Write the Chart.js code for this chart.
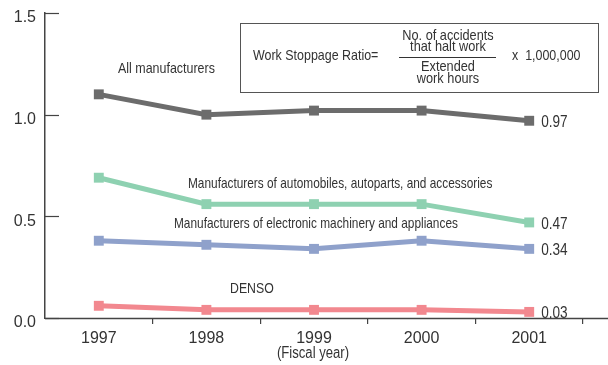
<!DOCTYPE html>
<html>
<head>
<meta charset="utf-8">
<script src="https://cdn.jsdelivr.net/npm/chart.js@4/dist/chart.umd.min.js"></script>
<style>
  html, body { margin: 0; padding: 0; background: #fff; }
  #wrap { width: 608px; height: 365px; position: relative; }
</style>
</head>
<body>
<div id="wrap"><canvas id="c" width="608" height="365"></canvas></div>
<script>
// Work stoppage ratio by fiscal year
const years = ['1997', '1998', '1999', '2000', '2001'];
const allManufacturers = [1.10, 1.00, 1.02, 1.02, 0.97];
const autoManufacturers = [0.69, 0.56, 0.56, 0.56, 0.47];
const electronicManufacturers = [0.38, 0.36, 0.34, 0.38, 0.34];
const denso = [0.06, 0.04, 0.04, 0.04, 0.03];
const yTicks = [0, 0.5, 1.0, 1.5];

const seriesNames = [
  'All manufacturers',
  'Manufacturers of automobiles, autoparts, and accessories',
  'Manufacturers of electronic machinery and appliances',
  'DENSO'
];
const seriesColors = ['#6c6c6c', '#8ed1b1', '#8fa1cb', '#f2888f'];
const seriesData = [allManufacturers, autoManufacturers, electronicManufacturers, denso];

const REGULAR = '"Liberation Sans", Arial, sans-serif';

// draw text squeezed horizontally (condensed look), anchored at (x, y)
function narrowText(ctx, text, x, y, size, squeeze, align) {
  ctx.save();
  ctx.font = size + 'px ' + REGULAR;
  ctx.textAlign = align || 'left';
  ctx.translate(x, y);
  ctx.scale(squeeze, 1);
  ctx.fillText(text, 0, 0);
  ctx.restore();
}

// Series names and end-of-line value labels, plus the formula box
const annotations = {
  id: 'annotations',
  afterDatasetsDraw(chart) {
    const ctx = chart.ctx;
    const x = chart.scales.x, y = chart.scales.y;
    ctx.save();
    ctx.fillStyle = '#333';
    ctx.textBaseline = 'middle';

    // names beside their lines
    narrowText(ctx, seriesNames[0], 118, 69, 15, 0.83);
    narrowText(ctx, seriesNames[1], 188, 184, 15, 0.79);
    narrowText(ctx, seriesNames[2], 174, 224, 15, 0.79);
    narrowText(ctx, seriesNames[3], 230, 289, 15, 0.82);

    // last values at the right end
    const last = years.length - 1;
    seriesData.forEach(d => {
      narrowText(ctx, d[last].toFixed(2), x.getPixelForValue(last) + 12, y.getPixelForValue(d[last]) + 2, 16, 0.85);
    });

    // axis caption
    narrowText(ctx, '(Fiscal year)', 313, 354, 16, 0.82, 'center');

    // y tick marks drawn inward from the axis
    ctx.strokeStyle = '#444';
    ctx.lineWidth = 1.2;
    yTicks.forEach(v => {
      const py = Math.round(y.getPixelForValue(v)) + 0.5;
      ctx.beginPath();
      ctx.moveTo(x.left, py);
      ctx.lineTo(x.left + 14, py);
      ctx.stroke();
    });

    // baseline running to the right edge
    const by = Math.round(y.getPixelForValue(0)) + 0.5;
    ctx.lineWidth = 1.5;
    ctx.beginPath();
    ctx.moveTo(x.left, by);
    ctx.lineTo(chart.width, by);
    ctx.stroke();

    // formula box
    ctx.lineWidth = 1;
    ctx.strokeStyle = '#555';
    ctx.fillStyle = '#fff';
    ctx.fillRect(240.5, 23.5, 358, 69);
    ctx.strokeRect(240.5, 23.5, 358, 69);
    ctx.fillStyle = '#333';
    narrowText(ctx, 'Work Stoppage Ratio=', 253, 56, 15, 0.83);
    narrowText(ctx, 'No. of accidents', 448, 36, 15, 0.85, 'center');
    narrowText(ctx, 'that halt work', 448, 47, 15, 0.85, 'center');
    narrowText(ctx, 'Extended', 448, 67, 15, 0.85, 'center');
    narrowText(ctx, 'work hours', 448, 79, 15, 0.85, 'center');
    ctx.beginPath();
    ctx.moveTo(399, 57.5);
    ctx.lineTo(496, 57.5);
    ctx.strokeStyle = '#333';
    ctx.stroke();
    narrowText(ctx, 'x  1,000,000', 512, 56, 15, 0.83);
    ctx.restore();
  }
};

new Chart(document.getElementById('c'), {
  type: 'line',
  data: {
    labels: years,
    datasets: seriesData.map((d, i) => ({
      label: seriesNames[i],
      data: d,
      borderColor: seriesColors[i],
      backgroundColor: seriesColors[i],
      borderWidth: 5,
      pointStyle: 'rect',
      pointRadius: 7,
      pointHoverRadius: 7,
      pointBorderWidth: 0,
      tension: 0,
      fill: false
    }))
  },
  options: {
    responsive: false,
    animation: false,
    events: [],
    layout: { padding: { left: 0, right: 25, top: 13, bottom: 0 } },
    plugins: {
      legend: { display: false },
      tooltip: { enabled: false }
    },
    scales: {
      x: {
        offset: true,
        grid: {
          offset: true,
          drawOnChartArea: false,
          drawTicks: true,
          tickLength: 6,
          color: ctx => (ctx.index === 0 || ctx.index === years.length) ? 'rgba(0,0,0,0)' : '#444',
          lineWidth: 1.2
        },
        border: { display: false },
        ticks: {
          color: '#333',
          font: { family: REGULAR, size: 16 },
          padding: 5
        },
        afterFit(scale) { scale.height = 47; }
      },
      y: {
        min: 0,
        max: 1.5,
        afterBuildTicks(scale) { scale.ticks = yTicks.map(v => ({ value: v })); },
        grid: { display: false, drawTicks: false },
        border: { display: true, color: '#444', width: 1.5 },
        ticks: {
          color: '#333',
          font: { family: REGULAR, size: 16 },
          padding: 9,
          labelOffset: 5,
          callback: v => v.toFixed(1)
        },
        afterFit(scale) {
          scale.width = 45;
          scale.paddingTop = 0;
          scale.paddingBottom = 0;
        }
      }
    }
  },
  plugins: [annotations]
});
</script>
</body>
</html>
